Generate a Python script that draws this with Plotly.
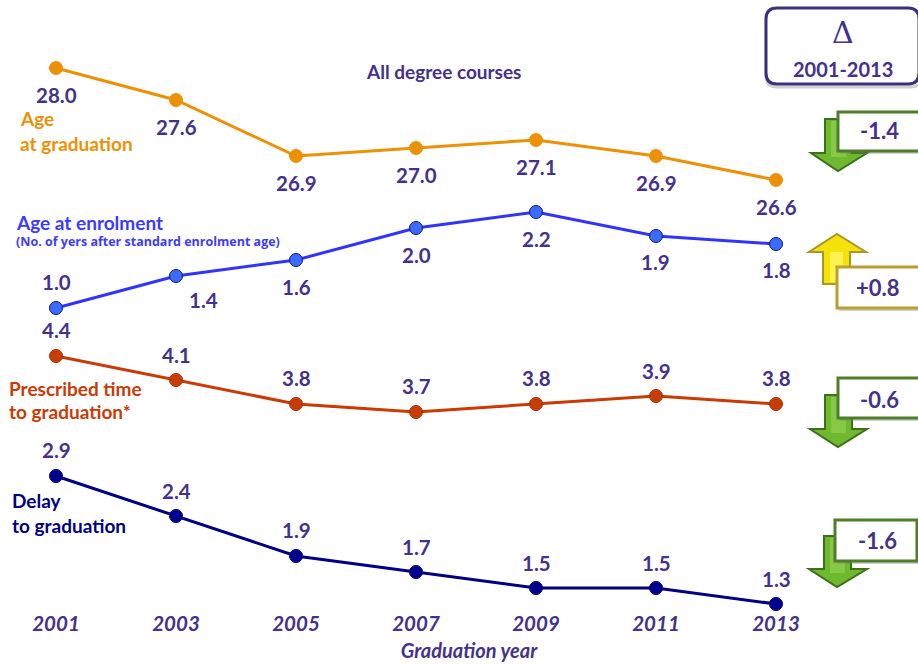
import plotly.graph_objects as go

years = [2001, 2003, 2005, 2007, 2009, 2011, 2013]
age_graduation = [28.0, 27.6, 26.9, 27.0, 27.1, 26.9, 26.6]
age_enrolment = [1.0, 1.4, 1.6, 2.0, 2.2, 1.9, 1.8]
prescribed_time = [4.4, 4.1, 3.8, 3.7, 3.8, 3.9, 3.8]
delay = [2.9, 2.4, 1.9, 1.7, 1.5, 1.5, 1.3]
deltas = ["-1.4", "+0.8", "-0.6", "-1.6"]

INK = "#43318c"
FONT = "Lato, 'Open Sans', sans-serif"
W, H = 918, 665
ML, MB = 20, 56
PW, PH = W - ML, H - MB


def X(p):
    return (p - ML) / PW


def Y(p):
    return 1 - p / PH


fig = go.Figure()
series = [
    ("Age at graduation", age_graduation, "y", "#ec9106", "#ec9106", "#ec9106", [27] * 7, [0] * 7),
    ("Age at enrolment", age_enrolment, "y2", "#3333ff", "#3a6cff", "#101080",
     [-26, 24, 27, 27, 27, 26, 26], [0, 27, 0, 0, 0, -1, 0]),
    ("Prescribed time to graduation", prescribed_time, "y3", "#c93a05", "#c83c06", "#a83005",
     [-26, -25, -26, -26, -26, -25, -26], [0] * 7),
    ("Delay to graduation", delay, "y4", "#000080", "#000090", "#000060",
     [-26, -25, -26, -25, -25, -25, -25], [0] * 7),
]
annotations = []
for name, vals, ax, line, fill, edge, dy, dx in series:
    fig.add_trace(go.Scatter(
        x=years, y=vals, yaxis=ax, name=name, mode="lines+markers", cliponaxis=False,
        line=dict(color=line, width=3),
        marker=dict(size=13, color=fill, line=dict(color=edge, width=1)),
        showlegend=False,
    ))
    for yr, v, sy, sx in zip(years, vals, dy, dx):
        annotations.append(dict(
            x=yr, y=v, xref="x", yref=ax, text=f"<b>{v:.1f}</b>", showarrow=False,
            xshift=sx, yshift=-sy, font=dict(family=FONT, size=20.5, color=INK),
        ))


def label(text, x, y, color, size=18, anchor="left", family=FONT):
    annotations.append(dict(
        x=X(x), y=Y(y), xref="paper", yref="paper", text=text, showarrow=False,
        xanchor=anchor, yanchor="middle", font=dict(family=family, size=size, color=color),
        borderpad=0, borderwidth=0,
    ))


label("<b>All degree courses</b>", 443, 72, INK, 19, "center")
label("<b>Age</b>", 20, 119, "#ec9106", 19)
label("<b>at graduation</b>", 20, 143, "#ec9106", 19)
label("<b>Age at enrolment</b>", 16, 222, "#3b3bff", 19)
label("<b>(No. of yers after standard enrolment age)</b>", 16, 242, "#3b3bff", 12.5, "left", "'Open Sans', sans-serif")
label("<b>Prescribed time</b>", 9, 388, "#c93a05", 19)
label("<b>to graduation*</b>", 9, 412, "#c93a05", 19)
label("<b>Delay</b>", 12, 500, "#000080", 19)
label("<b>to graduation</b>", 12, 525, "#000080", 19)
label("Δ", 843, 32, INK, 30, "center", "'DejaVu Serif', serif")
label("<b>2001-2013</b>", 843, 69, INK, 20, "center")

shapes = []


def path(points):
    return "M " + " L ".join(f"{X(a):.5f},{Y(b):.5f}" for a, b in points) + " Z"


def poly(points, fill, edge=None, width=0):
    shapes.append(dict(
        type="path", xref="paper", yref="paper", path=path(points), fillcolor=fill,
        line=dict(color=edge or fill, width=width), layer="above",
    ))


def rect(x0, y0, x1, y1, fill, edge=None, width=0):
    poly([(x0, y0), (x1, y0), (x1, y1), (x0, y1)], fill, edge, width)


def arrow_down(sl, sr, top, wing, wl, wr, tipx, tipy):
    poly([(sl, top), (sr, top), (sr, wing), (wr, wing), (tipx, tipy), (wl, wing), (sl, wing)],
         "#6fb92f", "#3f6e1c", 2)
    rect(sl + 6, top + 2, sr - 6, wing + 4, "#86c947")


def box(x0, y0, x1, y1, edge, text, tx, ty):
    rect(x0 + 2, y0 + 2, x1 + 2, y1 + 3, "rgba(120,120,120,0.35)")
    rect(x0, y0, x1, y1, "white", edge, 3)
    label(f"<b>{text}</b>", tx, ty, INK, 22, "center")


# header box
r = 11
x0, x1, y0, y1 = 766, 919, 8, 84
for off, col, wd, fill in [(3, "rgba(120,120,120,0.35)", 3, "rgba(0,0,0,0)"), (0, "#3c2f7f", 3, "white")]:
    a, b, c, d = X(x0), X(x1 + off), Y(y0 + off), Y(y1 + off)
    rx, ry = r / PW, r / PH
    shapes.append(dict(
        type="path", xref="paper", yref="paper", layer="above", fillcolor=fill,
        line=dict(color=col, width=wd),
        path=(f"M {a + rx},{c} L {b - rx},{c} Q {b},{c} {b},{c - ry} L {b},{d + ry} "
              f"Q {b},{d} {b - rx},{d} L {a + rx},{d} Q {a},{d} {a},{d + ry} "
              f"L {a},{c - ry} Q {a},{c} {a + rx},{c} Z"),
    ))

arrow_down(825, 852, 119, 153, 811, 867, 838, 171)
box(838, 112, 920, 151, "#4f7d2a", deltas[0], 879, 131)

poly([(837, 234), (866, 252), (850, 252), (850, 284), (823, 284), (823, 252), (809, 252)],
     "#f5e20a", "#a8962a", 2)
rect(830, 252, 843, 282, "#fff24d")
box(837, 267, 920, 308, "#b8a030", deltas[1], 878, 287)

arrow_down(825, 852, 395, 429, 810, 867, 838, 447)
box(838, 378, 920, 418, "#4f7d2a", deltas[2], 879, 399)

arrow_down(824, 851, 536, 569, 809, 867, 837, 587)
box(835, 520, 917, 561, "#4f7d2a", deltas[3], 877, 540)

SPAN = PH / 80
axis_top = dict(y=28.85, y2=4.85, y3=8.85, y4=8.85)
common = dict(visible=False, fixedrange=True, domain=[0, 1])

fig.update_layout(
    width=W, height=H, autosize=False,
    margin=dict(l=ML, r=0, t=0, b=MB),
    paper_bgcolor="white", plot_bgcolor="white",
    annotations=annotations, shapes=shapes,
    xaxis=dict(
        range=[2000.4, 2001 + (W - ML - 36) / 60], tickvals=years, ticktext=[f"<b>{y}</b>" for y in years],
        showgrid=False, zeroline=False, showline=False, ticks="", ticklen=0,
        tickfont=dict(family=FONT, size=20.5, color=INK, style="italic"),
        title=dict(text="<b>Graduation year</b>", standoff=10,
                   font=dict(family=FONT, size=20, color=INK, style="italic")),
    ),
    yaxis=dict(range=[axis_top["y"] - SPAN, axis_top["y"]], **common),
    yaxis2=dict(range=[axis_top["y2"] - SPAN, axis_top["y2"]], overlaying="y", **common),
    yaxis3=dict(range=[axis_top["y3"] - SPAN, axis_top["y3"]], overlaying="y", **common),
    yaxis4=dict(range=[axis_top["y4"] - SPAN, axis_top["y4"]], overlaying="y", **common),
)
fig.write_html(
    "out.html", config=dict(displayModeBar=False),
    post_script="document.body.style.margin='0';document.body.style.overflow='hidden';",
)
